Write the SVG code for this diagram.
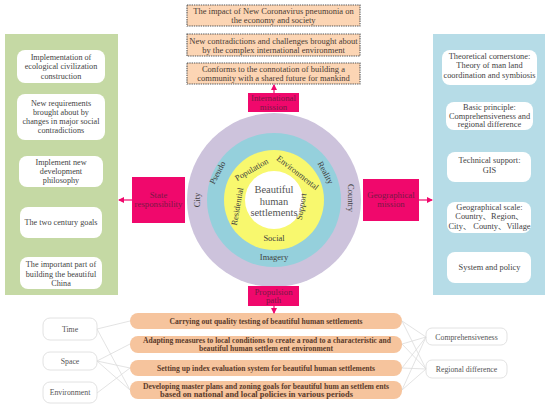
<svg xmlns="http://www.w3.org/2000/svg" width="550" height="405" viewBox="0 0 550 405">
<style>
text{font-family:"Liberation Serif","Times New Roman","Noto Sans CJK SC",serif;text-anchor:middle}
.t{font-size:8.5px;fill:#4a3b33}
.p{font-size:8.2px;fill:#444}
.pr{font-size:8.4px;fill:#444}
.pk{font-size:8.8px;fill:#7a1845}
.ring{font-size:8.5px;fill:#3f3f3f}
.o{font-size:7.4px;fill:#5b3b2b;font-weight:bold}
.g{font-size:7.8px;fill:#555}
.top{fill:#fcd5b4;stroke:#555;stroke-width:1.1;stroke-dasharray:1.4 0.9}
.wb{fill:#fff}
.lb{fill:#fff;stroke:#e2e2e2;stroke-width:1}
.ob{fill:#f6c49d}
.pink{fill:#f0086c}
.con{stroke:#dcdcdc;stroke-width:0.8;fill:none}
.arr{stroke:#f0086c;stroke-width:1.2;fill:none;marker-end:url(#ah)}
</style>
<defs>
<marker id="ah" markerWidth="6" markerHeight="6" refX="5" refY="3" orient="auto" markerUnits="userSpaceOnUse">
<path d="M0,0 L6,3 L0,6 z" fill="#f0086c"/>
</marker>
</defs>
<rect width="550" height="405" fill="#fff"/>

<g id="top-boxes">
<g id="top1"><rect class="top" x="187" y="5" width="173" height="21"/>
<text class="t" x="273.5" y="13.5">The impact of New Coronavirus pneumonia on</text>
<text class="t" x="273.5" y="22.5">the economy and society</text></g>
<g id="top2"><rect class="top" x="187" y="34" width="173" height="22"/>
<text class="t" x="273.5" y="43.5">New contradictions and challenges brought about</text>
<text class="t" x="273.5" y="52.5">by the complex international environment</text></g>
<g id="top3"><rect class="top" x="187" y="63" width="173" height="21"/>
<text class="t" x="273.5" y="72">Conforms to the connotation of building a</text>
<text class="t" x="273.5" y="81">community with a shared future for mankind</text></g>
</g>

<g id="left-panel">
<rect x="5" y="34" width="113" height="261" fill="#c5d9a4"/>
<g id="l1"><rect class="wb" x="17" y="50" width="88" height="33" rx="8"/>
<text class="p" x="61" y="59.5">Implementation of</text>
<text class="p" x="61" y="69">ecological civilization</text>
<text class="p" x="61" y="78.5">construction</text></g>
<g id="l2"><rect class="wb" x="17" y="94" width="88" height="46" rx="8"/>
<text class="p" x="61" y="105.5">New requirements</text>
<text class="p" x="61" y="114.5">brought about by</text>
<text class="p" x="61" y="123.5">changes in major social</text>
<text class="p" x="61" y="132.5">contradictions</text></g>
<g id="l3"><rect class="wb" x="19" y="156" width="84" height="31" rx="8"/>
<text class="p" x="61" y="164.5">Implement new</text>
<text class="p" x="61" y="173.5">development</text>
<text class="p" x="61" y="182.5">philosophy</text></g>
<g id="l4"><rect class="wb" x="20" y="207" width="82" height="31" rx="8"/>
<text class="p" x="61" y="225">The two century goals</text></g>
<g id="l5"><rect class="wb" x="20" y="257" width="82" height="32" rx="8"/>
<text class="p" x="61" y="267">The important part of</text>
<text class="p" x="61" y="276.5">building the beautiful</text>
<text class="p" x="61" y="286">China</text></g>
</g>

<g id="right-panel">
<rect x="433" y="34" width="112" height="261" fill="#b6dce7"/>
<g id="r1"><rect class="wb" x="442" y="50" width="95" height="35" rx="8"/>
<text class="pr" x="489.5" y="58.5">Theoretical cornerstone:</text>
<text class="pr" x="489.5" y="68">Theory of man land</text>
<text class="pr" x="489.5" y="77.5">coordination and symbiosis</text></g>
<g id="r2"><rect class="wb" x="446" y="102" width="87" height="28" rx="8"/>
<text class="pr" x="489.5" y="110">Basic principle:</text>
<text class="pr" x="489.5" y="118.5">Comprehensiveness and</text>
<text class="pr" x="489.5" y="127">regional difference</text></g>
<g id="r3"><rect class="wb" x="447" y="152" width="84" height="30" rx="8"/>
<text class="pr" x="489.5" y="163">Technical support:</text>
<text class="pr" x="489.5" y="172.5">GIS</text></g>
<g id="r4"><rect class="wb" x="447" y="202" width="84" height="31" rx="8"/>
<text class="pr" x="489.5" y="209.5">Geographical scale:</text>
<text class="pr" x="489.5" y="219">Country、Region、</text>
<text class="pr" x="489.5" y="228.5">City、 County、Village</text></g>
<g id="r5"><rect class="wb" x="447" y="252" width="84" height="31" rx="8"/>
<text class="pr" x="489.5" y="270">System and policy</text></g>
</g>

<g id="rings">
<circle cx="274" cy="200" r="87" fill="#cdc3dc"/>
<circle cx="274" cy="200" r="67" fill="#95d0dc"/>
<circle cx="274" cy="200" r="50" fill="#f8f86e"/>
<circle cx="274" cy="200" r="29" fill="#fff"/>
<text x="274" y="193" style="font-size:10.5px;fill:#555">Beautiful</text>
<text x="274" y="204.5" style="font-size:10.5px;fill:#555">human</text>
<text x="274" y="216" style="font-size:10.5px;fill:#555">settlements</text>
<text class="ring" transform="translate(253,172) rotate(-30)">Population</text>
<text class="ring" transform="translate(296,175) rotate(38)">Environmental</text>
<text class="ring" transform="translate(240,207) rotate(-80)">Residential</text>
<text class="ring" transform="translate(304,207) rotate(-80)">Support</text>
<text class="ring" x="274" y="241">Social</text>
<text class="ring" transform="translate(220,174) rotate(-62)">Pseudo</text>
<text class="ring" transform="translate(323,174) rotate(62)">Reality</text>
<text class="ring" x="274" y="260">Imagery</text>
<text class="ring" transform="translate(200,200) rotate(-90)">City</text>
<text class="ring" transform="translate(348,198) rotate(90)">Country</text>
</g>

<g id="pink-international"><rect class="pink" x="248" y="93" width="51" height="19"/>
<text class="pk" x="273.5" y="101">International</text>
<text class="pk" x="273.5" y="109.5">mission</text></g>
<g id="pink-propulsion"><rect class="pink" x="248" y="286" width="51" height="20"/>
<text class="pk" x="273.5" y="294.5">Propulsion</text>
<text class="pk" x="273.5" y="303">path</text></g>
<g id="pink-state"><rect class="pink" x="132" y="177" width="53" height="46"/>
<text class="pk" x="158.5" y="198">State</text>
<text class="pk" x="158.5" y="207">responsibility</text></g>
<g id="pink-geo"><rect class="pink" x="363" y="179" width="56" height="42"/>
<text class="pk" x="391" y="198">Geographical</text>
<text class="pk" x="391" y="207">mission</text></g>

<g id="bottom-left">
<g id="time"><rect class="lb" x="43" y="318" width="54" height="22" rx="7"/><text class="g" x="70" y="332">Time</text></g>
<g id="space"><rect class="lb" x="43" y="352" width="54" height="18" rx="7"/><text class="g" x="70" y="364">Space</text></g>
<g id="environment"><rect class="lb" x="43" y="382" width="54" height="21" rx="7"/><text class="g" x="70" y="395">Environment</text></g>
</g>

<g id="bottom-center">
<g id="o1"><rect class="ob" x="130" y="313" width="272" height="16" rx="8"/>
<text class="o" x="266" y="323.5" textLength="193" lengthAdjust="spacingAndGlyphs">Carrying out quality testing of beautiful human settlements</text></g>
<g id="o2"><rect class="ob" x="130" y="336" width="272" height="17" rx="8"/>
<text class="o" x="267" y="343" textLength="248" lengthAdjust="spacingAndGlyphs">Adapting measures to local conditions to create a road to a characteristic and</text>
<text class="o" x="266" y="350.5" textLength="134" lengthAdjust="spacingAndGlyphs">beautiful human settlem ent environment</text></g>
<g id="o3"><rect class="ob" x="130" y="360" width="272" height="16" rx="8"/>
<text class="o" x="266" y="370.5" textLength="218" lengthAdjust="spacingAndGlyphs">Setting up index evaluation system for beautiful human settlements</text></g>
<g id="o4"><rect class="ob" x="130" y="381" width="272" height="18" rx="8"/>
<text class="o" x="266" y="389" textLength="246" lengthAdjust="spacingAndGlyphs">Developing master plans and zoning goals for beautiful hum an settlem ents</text>
<text class="o" x="256.5" y="397" textLength="193" lengthAdjust="spacingAndGlyphs">based on national and local policies in various periods</text></g>
</g>

<g id="bottom-right">
<g id="comp"><rect class="lb" x="426" y="328" width="81" height="17" rx="6"/><text class="g" x="466.5" y="339.5">Comprehensiveness</text></g>
<g id="regional"><rect class="lb" x="426" y="360" width="81" height="18" rx="6"/><text class="g" x="466.5" y="372">Regional difference</text></g>
</g>

<g id="connectors">
<path class="con" d="M97,329 L130,321 M97,329 L130,390 M97,361 L130,344 M97,361 L130,368 M97,361 L130,390 M97,393 L130,368"/>
<path class="con" d="M402,321 L426,337 M402,344 L426,337 M402,368 L426,337 M402,390 L426,337 M402,321 L426,369 M402,344 L426,369 M402,368 L426,369 M402,390 L426,369"/>
<path class="arr" d="M274,93 L274,85"/>
<path class="arr" d="M274,306 L274,313"/>
<path class="arr" d="M132,200 L119,200"/>
<path class="arr" d="M419,200 L432,200"/>
</g>
</svg>
